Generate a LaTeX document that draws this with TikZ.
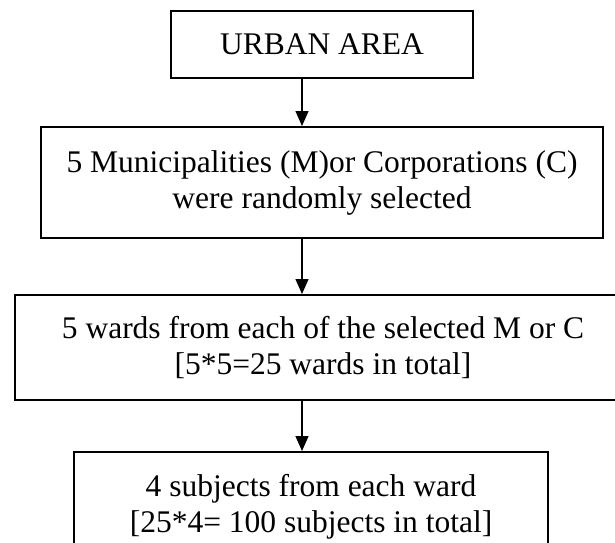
\documentclass[tikz,border=0pt]{standalone}
\usepackage{fontspec}
\setmainfont{Liberation Serif}
\usetikzlibrary{arrows.meta}

\begin{document}
\begin{tikzpicture}[x=1pt,y=1pt,
  stage/.style={draw,line width=2pt,align=center,inner sep=0pt,
    font=\fontsize{31.5}{36}\selectfont},
  flow/.style={line width=1.3pt,-{Triangle[length=15pt,width=13pt]}}]
\useasboundingbox (0,0) rectangle (615,-542);
\coordinate (axis) at (302,0);
\node[stage,minimum width=302pt,minimum height=67pt] (urban) at (322,-44.5) {URBAN AREA};
\node[stage,minimum width=562pt,minimum height=111pt] (munic) at (322,-182.5)
  {5 Municipalities (M)or Corporations (C)\\were randomly selected};
\node[stage,minimum width=616pt,minimum height=105pt] (wards) at (323,-347.5)
  {5 wards from each of the selected M or C\\{}[5*5=25 wards in total]};
\node[stage,minimum width=474pt,minimum height=110pt] (subj) at (311,-507)
  {4 subjects from each ward\\{}[25*4= 100 subjects in total]};
\draw[flow] (urban.south -| axis) -- (munic.north -| axis);
\draw[flow] (munic.south -| axis) -- (wards.north -| axis);
\draw[flow] (wards.south -| axis) -- (subj.north -| axis);
\end{tikzpicture}
\end{document}
